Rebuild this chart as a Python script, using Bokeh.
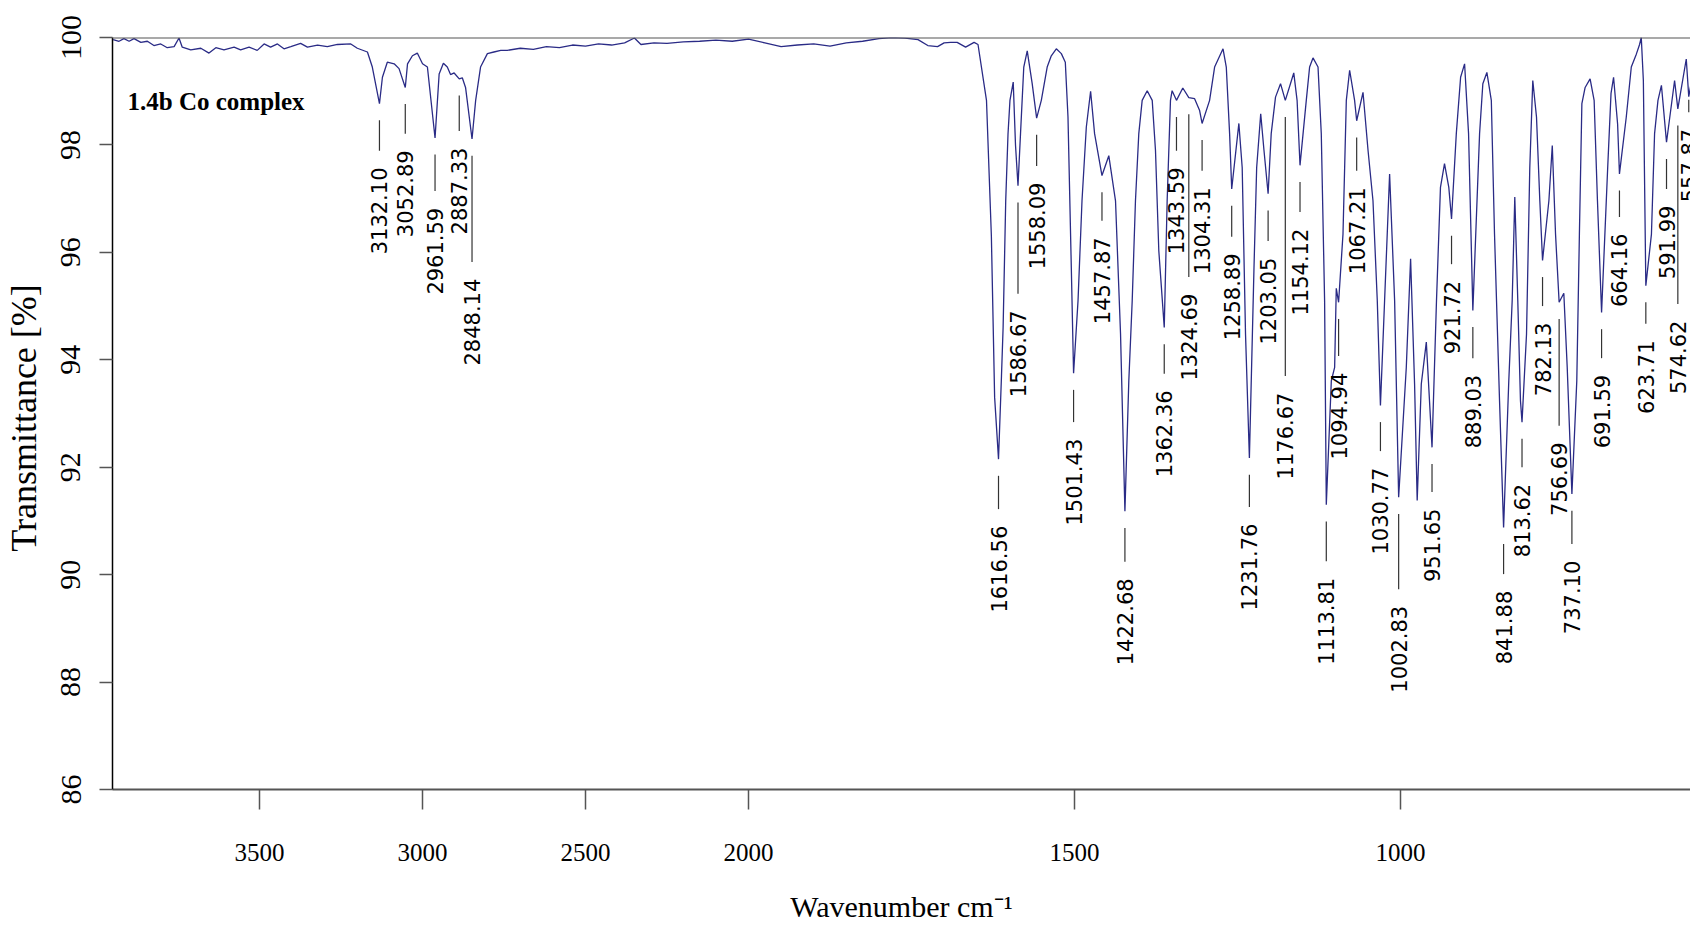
import math
from bokeh.plotting import figure
from bokeh.models import Range1d, FixedTicker, Span, Label
from bokeh.embed import file_html
from bokeh.resources import INLINE
from bokeh.core.properties import value

# ---- spectrum trace: wavenumber (cm-1) and transmittance (%)
wavenumber = [
    3949, 3931, 3916, 3900, 3885, 3864, 3844, 3824, 3803, 3783, 3762, 3747, 3737, 3711,
    3680, 3655, 3634, 3609, 3578, 3558, 3532, 3507, 3486, 3466, 3445, 3425, 3404, 3374,
    3353, 3322, 3292, 3261, 3220, 3200, 3169, 3154, 3132.10, 3123, 3108, 3087, 3072,
    3052.89, 3046, 3031, 3016, 3000, 2985, 2961.59, 2949, 2936, 2924, 2914, 2903, 2887.33,
    2878, 2868, 2848.14, 2837, 2822, 2801, 2781, 2760,
    2740, 2700, 2660, 2620, 2580, 2540, 2500, 2460, 2420, 2380, 2350, 2330, 2290, 2250,
    2200, 2150, 2100, 2050, 2000, 1975, 1950, 1925, 1900, 1875, 1850, 1825, 1800, 1780,
    1760, 1740, 1725, 1710, 1700,
    1690, 1680, 1667, 1654, 1648, 1635, 1627.5, 1622.5, 1616.56, 1612, 1609.5, 1605.5,
    1602, 1599, 1594, 1590.5, 1586.67, 1582.8, 1577.8, 1572.5, 1564.9, 1558.09, 1550.9,
    1541.9, 1535.6, 1527.9, 1520.2, 1514.1, 1510, 1504.9, 1501.43, 1494.6, 1488.5, 1481.9,
    1475.3, 1469.2, 1457.87, 1447.4, 1437.1, 1429.4, 1422.68, 1416.7, 1411.5, 1406.5,
    1401.4, 1396.2, 1388.5, 1380.8, 1375.8, 1370.7, 1362.36, 1357.9, 1352.8, 1350.3,
    1343.59, 1333.9, 1324.69, 1315.8, 1308.1, 1304.31, 1292.8, 1285.1, 1272.2, 1267.2,
    1262.1, 1258.89, 1247.9, 1242.8, 1237.7, 1231.76, 1224.7, 1220.6, 1214.4, 1209.4,
    1203.05, 1198.3, 1191.7, 1184, 1176.67, 1163.7, 1158.6, 1154.12, 1144.5, 1139.4,
    1134.2, 1126.5, 1121.5, 1116.4, 1113.81, 1106.1, 1101, 1098.5, 1094.94, 1088.2,
    1083.1, 1078, 1070.4, 1067.21, 1057.5, 1049.8, 1042.2, 1035.6, 1030.77, 1024.4,
    1016.7, 1009, 1002.83, 991.1, 984.5, 978.4, 974.4, 968.1, 960.4, 951.65, 944.8,
    938.7, 932.5, 925.9, 921.72, 914.4, 907.8, 901.7, 895.6, 889.03, 878.7, 873.7, 867.5,
    860.7, 855.8, 848.1, 841.88, 833.9, 828.7, 824.7, 820.1, 816, 813.62, 806.7, 801.7,
    797.1, 791.4, 786.3, 782.13, 772.4, 767.2, 762.2, 756.69, 749.5, 744.3, 737.10, 729.6,
    725.6, 721.8, 716.8, 709.2, 703, 697.9, 691.59, 682.2, 677.1, 673.2, 667, 664.16,
    653.7, 646, 638.3, 633.3, 630.7, 627.5, 623.71, 615.1, 610.3, 605.1, 599.8, 591.99,
    579.6, 574.62, 561.7, 557.87, 552,
]
transmittance = [
    99.96, 99.93, 99.98, 99.93, 99.98, 99.91, 99.93, 99.85, 99.88, 99.81, 99.83, 99.99, 99.82, 99.77,
    99.80, 99.71, 99.81, 99.77, 99.82, 99.77, 99.82, 99.76, 99.88, 99.82, 99.88, 99.79, 99.83, 99.89,
    99.82, 99.86, 99.83, 99.87, 99.88, 99.80, 99.73, 99.45, 98.77, 99.26, 99.54, 99.51, 99.42,
    99.07, 99.51, 99.66, 99.71, 99.51, 99.45, 98.13, 99.32, 99.52, 99.45, 99.31, 99.34, 99.23,
    99.25, 99.07, 98.11, 98.83, 99.45, 99.70, 99.73, 99.76,
    99.76, 99.80, 99.78, 99.83, 99.81, 99.86, 99.84, 99.88, 99.86, 99.90, 99.99, 99.87, 99.90, 99.89,
    99.92, 99.93, 99.95, 99.93, 99.97, 99.90, 99.83, 99.86, 99.88, 99.84, 99.90, 99.93, 99.98, 100.0,
    99.99, 99.96, 99.85, 99.83, 99.90,
    99.91, 99.91, 99.82, 99.91, 99.87, 98.83, 96.30, 93.30, 92.15, 93.70, 94.60, 96.96,
    98.20, 98.83, 99.17, 98.00, 97.24, 98.21, 99.45, 99.75, 99.14, 98.50, 98.83,
    99.45, 99.66, 99.79, 99.70, 99.54, 98.52, 95.72, 93.75, 95.10, 96.96, 98.33,
    99.00, 98.21, 97.43, 97.80, 96.96, 94.48, 91.18, 93.61, 95.10, 96.96,
    98.21, 98.83, 99.01, 98.83, 97.90, 96.03, 94.60, 96.96, 98.83, 99.01,
    98.83, 99.06, 98.88, 98.86, 98.64, 98.40, 98.83, 99.45, 99.79, 99.45,
    98.21, 97.18, 98.40, 97.58, 94.48, 92.17, 95.72, 97.58, 98.58, 97.90,
    97.09, 98.21, 98.89, 99.14, 98.83, 99.34, 98.83, 97.62, 98.83, 99.45,
    99.62, 99.45, 98.21, 95.10, 91.30, 93.61, 93.86, 95.33, 95.07, 96.34,
    98.83, 99.39, 98.83, 98.45, 98.98, 97.90, 96.96, 95.10, 93.15, 95.10,
    97.46, 95.10, 91.44, 93.86, 95.88, 93.55, 91.38, 93.55, 94.33, 92.37, 95.10,
    97.21, 97.65, 97.21, 96.62, 98.21, 99.26, 99.51, 98.21, 94.92, 98.21, 99.14, 99.35,
    98.83, 96.34, 93.24, 90.88, 93.61, 95.10, 97.03, 95.10, 93.24, 92.84, 94.48, 97.58,
    99.20, 98.52, 96.96, 95.85, 96.96, 97.99, 96.34, 95.07, 95.24, 93.86, 91.50, 93.61,
    96.34, 98.77, 99.07, 99.23, 98.83, 96.96, 94.88, 97.58, 98.96, 99.26, 98.39, 97.46,
    98.52, 99.45, 99.69, 99.87, 100.0, 99.20, 95.38, 96.34, 98.21, 98.83, 99.11, 98.05,
    99.20, 98.67, 99.60, 98.90, 99.30,
]

# ---- labelled peaks: position, transmittance at the peak, and where the rotated label text ends
peak_labels = [
    "3132.10", "3052.89", "2961.59", "2887.33", "2848.14", "1616.56", "1586.67", "1558.09",
    "1501.43", "1457.87", "1422.68", "1362.36", "1343.59", "1324.69", "1304.31", "1258.89",
    "1231.76", "1203.05", "1176.67", "1154.12", "1113.81", "1094.94", "1067.21", "1030.77",
    "1002.83", "951.65", "921.72", "889.03", "841.88", "813.62", "782.13", "756.69",
    "737.10", "691.59", "664.16", "623.71", "591.99", "574.62", "557.87",
]
peak_T = [
    98.77, 99.07, 98.13, 99.23, 98.11, 92.15, 97.24, 98.50,
    93.75, 97.43, 91.18, 94.60, 98.83, 98.88, 98.40, 97.18,
    92.17, 97.09, 98.83, 97.62, 91.30, 95.07, 98.45, 93.15,
    91.44, 92.37, 96.62, 94.92, 90.88, 92.84, 95.85, 95.07,
    91.50, 94.88, 97.46, 95.38, 98.05, 98.67, 99.15,
]
label_end_T = [
    97.58, 97.90, 96.83, 97.95, 95.51, 90.91, 94.92, 97.30,
    92.53, 96.28, 89.93, 93.43, 97.58, 95.23, 97.21, 95.98,
    90.95, 95.90, 93.39, 96.44, 89.94, 93.76, 97.21, 91.99,
    89.42, 91.23, 95.47, 93.72, 89.70, 91.69, 94.69, 92.46,
    90.26, 93.72, 96.35, 94.36, 96.87, 94.73, 98.30,
]

x_tick_values = [3500, 3000, 2500, 2000, 1500, 1000]
y_tick_values = [86, 88, 90, 92, 94, 96, 98, 100]


def to_u(w):
    """Axis is drawn at half scale above 2000 cm-1 (common IR layout)."""
    return w if w <= 2000 else 2000 + (w - 2000) / 2


SERIF = "Liberation Serif"

p = figure(width=1690, height=927, output_backend="svg", toolbar_location=None,
           x_range=Range1d(2975.5, 555.2), y_range=Range1d(86, 100),
           min_border_left=112, min_border_right=0, min_border_top=37,
           min_border_bottom=138)
p.outline_line_color = None
p.xgrid.grid_line_color = None
p.ygrid.grid_line_color = None
p.background_fill_color = "white"
p.border_fill_color = "white"

# x axis
p.xaxis.ticker = FixedTicker(ticks=[to_u(v) for v in x_tick_values])
p.xaxis.major_label_overrides = {to_u(v): str(v) for v in x_tick_values}
p.xaxis.axis_line_color = "#555555"
p.xaxis.axis_line_width = 2
p.xaxis.major_tick_line_color = "#555555"
p.xaxis.major_tick_line_width = 1.5
p.xaxis.major_tick_out = 20
p.xaxis.major_tick_in = 0
p.xaxis.minor_tick_line_color = None
p.xaxis.major_label_text_font = SERIF
p.xaxis.major_label_text_font_size = "25px"
p.xaxis.major_label_text_color = "black"
p.xaxis.major_label_standoff = 34
p.xaxis.axis_label = "Wavenumber cm\u207b\u00b9"
p.xaxis.axis_label_text_font = SERIF
p.xaxis.axis_label_text_font_size = "30px"
p.xaxis.axis_label_text_font_style = "normal"
p.xaxis.axis_label_text_color = "black"
p.xaxis.axis_label_standoff = 26

# y axis
p.yaxis.ticker = FixedTicker(ticks=y_tick_values)
p.yaxis.axis_line_color = "black"
p.yaxis.axis_line_width = 1.5
p.yaxis.major_tick_line_color = "#555555"
p.yaxis.major_tick_line_width = 1.5
p.yaxis.major_tick_out = 13
p.yaxis.major_tick_in = 0
p.yaxis.minor_tick_line_color = None
p.yaxis.major_label_orientation = "vertical"
p.yaxis.major_label_text_font = SERIF
p.yaxis.major_label_text_font_size = "30px"
p.yaxis.major_label_text_color = "black"
p.yaxis.major_label_standoff = 19
p.yaxis.axis_label = "Transmittance  [%]"
p.yaxis.axis_label_text_font = SERIF
p.yaxis.axis_label_text_font_size = "36px"
p.yaxis.axis_label_text_font_style = "normal"
p.yaxis.axis_label_text_color = "black"
p.yaxis.axis_label_standoff = 15

# top frame line
p.add_layout(Span(location=100, dimension="width", line_color="#555555", line_width=2))

# spectrum
p.line(x=[to_u(w) for w in wavenumber], y=transmittance, line_color="#2a2b86", line_width=1.3)

# peak markers and labels
peak_u = [to_u(float(s)) for s in peak_labels]
gap = 0.31
p.segment(x0=peak_u, y0=[t - gap for t in peak_T], x1=peak_u, y1=[e + gap for e in label_end_T],
          line_color="#333333", line_width=1.2)
p.text(x=peak_u, y=label_end_T, text=peak_labels, angle=math.pi / 2,
       text_align="right", text_baseline="middle",
       text_font=value("DejaVu Sans"), text_font_size="21px", text_color="black")

p.add_layout(Label(x=to_u(3905), y=98.80, text="1.4b Co complex",
                   text_font=SERIF, text_font_style="bold", text_font_size="25px",
                   text_color="black", text_baseline="alphabetic"))

open("out.html", "w").write(file_html(p, INLINE))
